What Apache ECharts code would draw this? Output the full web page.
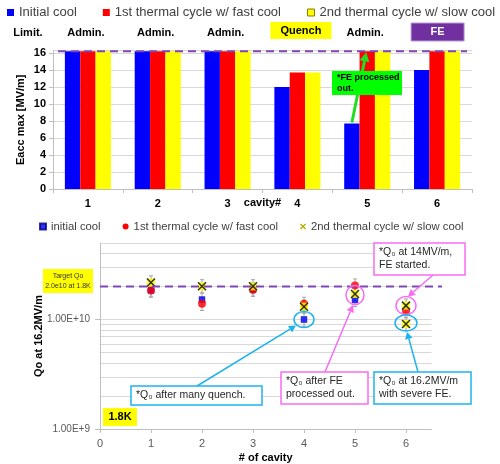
<!DOCTYPE html>
<html>
<head>
<meta charset="utf-8">
<script src="https://cdn.jsdelivr.net/npm/echarts@6/dist/echarts.min.js"></script>
<style>
  html, body { margin: 0; padding: 0; background: #fff; }
  #chart { width: 500px; height: 464px; }
</style>
</head>
<body>
<div id="chart"></div>
<script>
// ---- Maximum accelerating gradient per cavity (MV/m) ----
const cavities = ['1', '2', '3', '4', '5', '6'];
const eaccInitial = [16.2, 16.2, 16.2, 12.0, 7.7, 14.0];
const eaccFast = [16.2, 16.2, 16.2, 13.7, 16.2, 16.2];
const eaccSlow = [16.2, 16.2, 16.2, 13.7, 16.2, 16.2];
const eaccTarget = 16.2;
const limitLabels = ['Admin.', 'Admin.', 'Admin.', 'Quench', 'Admin.', 'FE'];

// ---- Quality factor Q0 at 16.2 MV/m ----
const cavityNo = [1, 2, 3, 4, 5, 6];
const q0Initial = [1.85e10, 1.52e10, 1.88e10, 1.00e10, 1.51e10, null];
const q0Fast = [1.84e10, 1.39e10, 1.87e10, 1.39e10, 2.04e10, 1.19e10];
const q0SlowCavity = [1, 2, 3, 4, 5, 6, 6];
const q0Slow = [2.18e10, 2.01e10, 2.01e10, 1.31e10, 1.71e10, 1.34e10, 0.91e10];
const q0Target = 2.0e10;
const q0RelErr = 0.15;
const q0AxisMin = 1e9, q0AxisMax = 5e10;

const FONT = 'Liberation Sans';
const GRID = '#d9d9d9';
const AXIS = '#bfbfbf';
const PURPLE = '#7f46b8';
const CYAN = '#1db4ec';
const PINK = '#f86cf4';

const nameInitial = 'Initial cool';
const nameInitial2 = 'initial cool';
const nameFast = '1st thermal cycle w/ fast cool';
const nameSlow = '2nd thermal cycle w/ slow cool';

// minor gridlines of the log axis (2..9 of each decade)
const minorLines = [];
for (let d = q0AxisMin; d < q0AxisMax; d *= 10) {
  for (let k = 2; k <= 9; k++) {
    const v = d * k;
    if (v < q0AxisMax) minorLines.push({ yAxis: v });
  }
}

const pairs = (xs, ys) => xs.map((x, i) => [x, ys[i]]).filter(p => p[1] != null);
const errRows = [];
[[cavityNo, q0Initial], [cavityNo, q0Fast], [q0SlowCavity, q0Slow]].forEach(([xs, ys]) => {
  xs.forEach((x, i) => { if (ys[i] != null) errRows.push([x, ys[i] / (1 + q0RelErr), ys[i] * (1 + q0RelErr)]); });
});

const chart = echarts.init(document.getElementById('chart'), null, { renderer: 'canvas' });

const xIcon = 'path://M0,1.5 L1.5,0 L5,3.5 L8.5,0 L10,1.5 L6.5,5 L10,8.5 L8.5,10 L5,6.5 L1.5,10 L0,8.5 L3.5,5 Z';
const axisName = { fontWeight: 'bold', fontSize: 11, color: '#000' };

chart.setOption({
  animation: false,
  textStyle: { fontFamily: FONT },
  legend: [
    {
      left: 7, top: 6, padding: 0, itemGap: 26, itemWidth: 7, itemHeight: 7,
      textStyle: { fontSize: 13, color: '#404040', fontFamily: FONT },
      data: [
        { name: nameInitial, icon: 'rect' },
        { name: nameFast, icon: 'rect' },
        { name: nameSlow, icon: 'rect', itemStyle: { color: '#ffff00', borderColor: '#7f7f00', borderWidth: 1 } }
      ]
    },
    {
      left: 39, top: 221, padding: 0, itemGap: 22, itemWidth: 6, itemHeight: 6,
      textStyle: { fontSize: 11.3, color: '#404040', fontFamily: FONT },
      data: [
        { name: nameInitial2, icon: 'rect' },
        { name: nameFast, icon: 'circle' },
        { name: nameSlow, icon: xIcon, itemStyle: { color: '#b0b000', borderWidth: 0 } }
      ]
    }
  ],
  grid: [
    { left: 53, top: 50.5, width: 419, height: 138.5, outerBoundsMode: 'none', containLabel: false },
    { left: 100, top: 243, width: 331.5, height: 186, outerBoundsMode: 'none', containLabel: false }
  ],
  xAxis: [
    {
      type: 'category', gridIndex: 0, data: cavities,
      name: 'cavity#', nameLocation: 'middle', nameGap: 8.5, nameMoveOverlap: false,
      nameTextStyle: axisName,
      axisLine: { lineStyle: { color: AXIS } },
      axisTick: { show: true, length: 4, lineStyle: { color: AXIS } },
      axisLabel: { fontWeight: 'bold', fontSize: 11, color: '#000', margin: 9 }
    },
    {
      type: 'value', gridIndex: 1, min: 0, max: 6.5, interval: 1,
      name: '# of cavity', nameLocation: 'middle', nameGap: 23.5, nameMoveOverlap: false,
      nameTextStyle: axisName,
      splitLine: { show: false },
      axisLine: { show: true, lineStyle: { color: AXIS } },
      axisTick: { show: true, length: 4, lineStyle: { color: AXIS } },
      axisLabel: { fontSize: 11, color: '#595959', margin: 9, showMaxLabel: false }
    }
  ],
  yAxis: [
    {
      type: 'value', gridIndex: 0, min: 0, max: 16.3, interval: 2,
      name: 'Eacc max [MV/m]', nameLocation: 'middle', nameGap: 27, nameMoveOverlap: false,
      nameTextStyle: axisName,
      splitLine: { lineStyle: { color: GRID } },
      axisLine: { show: true, lineStyle: { color: AXIS } },
      axisTick: { show: true, length: 4, lineStyle: { color: AXIS } },
      axisLabel: { fontWeight: 'bold', fontSize: 11, color: '#000', margin: 7, showMaxLabel: false }
    },
    {
      type: 'log', gridIndex: 1, min: q0AxisMin, max: q0AxisMax, logBase: 10,
      name: 'Qo at 16.2MV/m', nameLocation: 'middle', nameGap: 56, nameMoveOverlap: false,
      nameTextStyle: axisName,
      splitLine: { lineStyle: { color: GRID } },
      axisLine: { show: true, lineStyle: { color: AXIS } },
      axisTick: { show: true, length: 5, lineStyle: { color: AXIS } },
      axisLabel: {
        fontSize: 10, color: '#595959', margin: 10, showMaxLabel: false,
        formatter: v => Number(v).toExponential(2).toUpperCase()
      }
    }
  ],
  series: [
    { name: nameInitial, type: 'bar', xAxisIndex: 0, yAxisIndex: 0, data: eaccInitial,
      itemStyle: { color: '#0000ff' }, barGap: '0%', barCategoryGap: '34%' },
    { name: nameFast, type: 'bar', xAxisIndex: 0, yAxisIndex: 0, data: eaccFast,
      itemStyle: { color: '#ff0000' }, barGap: '0%', barCategoryGap: '34%' },
    { name: nameSlow, type: 'bar', xAxisIndex: 0, yAxisIndex: 0, data: eaccSlow,
      itemStyle: { color: '#ffff00' }, barGap: '0%', barCategoryGap: '34%' },
    {
      type: 'custom', name: 'errors', xAxisIndex: 1, yAxisIndex: 1, z: 1, silent: true,
      data: errRows,
      encode: { x: 0, y: [1, 2] },
      renderItem: (params, api) => {
        const top = api.coord([api.value(0), api.value(2)]);
        const bot = api.coord([api.value(0), api.value(1)]);
        const st = { stroke: '#a6a6a6', lineWidth: 1 };
        return {
          type: 'group', children: [
            { type: 'line', shape: { x1: top[0], y1: top[1], x2: bot[0], y2: bot[1] }, style: st },
            { type: 'line', shape: { x1: top[0] - 2, y1: top[1], x2: top[0] + 2, y2: top[1] }, style: st },
            { type: 'line', shape: { x1: bot[0] - 2, y1: bot[1], x2: bot[0] + 2, y2: bot[1] }, style: st }
          ]
        };
      }
    },
    {
      name: nameInitial2, type: 'scatter', xAxisIndex: 1, yAxisIndex: 1,
      data: pairs(cavityNo, q0Initial), symbol: 'rect', symbolSize: 6,
      itemStyle: { color: '#0000ff', borderColor: '#000080', borderWidth: 0.5 },
      markLine: {
        silent: true, symbol: 'none', label: { show: false },
        lineStyle: { color: GRID, type: 'solid', width: 1 },
        emphasis: { disabled: true },
        data: minorLines, z: 0
      }
    },
    {
      name: nameFast, type: 'scatter', xAxisIndex: 1, yAxisIndex: 1,
      data: pairs(cavityNo, q0Fast), symbol: 'circle', symbolSize: 8,
      itemStyle: { color: '#ff0000' }
    },
    {
      name: nameSlow, type: 'scatter', xAxisIndex: 1, yAxisIndex: 1,
      data: pairs(q0SlowCavity, q0Slow), symbol: 'rect', symbolSize: 8,
      itemStyle: { color: '#ffff00' }
    },
    {
      name: nameSlow, type: 'scatter', xAxisIndex: 1, yAxisIndex: 1,
      data: pairs(q0SlowCavity, q0Slow), symbol: 'path://M0,0 L10,10 M10,0 L0,10', symbolSize: 8,
      itemStyle: { color: 'none', borderColor: '#000', borderWidth: 1.5 }
    }
  ]
});

// ---- annotations ----
const topPx = (i, v) => chart.convertToPixel({ xAxisIndex: 0, yAxisIndex: 0 }, [i, v]);
const botPx = (x, v) => chart.convertToPixel({ xAxisIndex: 1, yAxisIndex: 1 }, [x, v]);

function arrow(x1, y1, x2, y2, color, w, head) {
  const a = Math.atan2(y2 - y1, x2 - x1);
  const hw = head * 0.55;
  const bx = x2 - head * Math.cos(a), by = y2 - head * Math.sin(a);
  return [
    { type: 'line', z: 100, shape: { x1, y1, x2: bx, y2: by }, style: { stroke: color, lineWidth: w } },
    { type: 'polygon', z: 100, shape: { points: [[x2, y2], [bx + hw * Math.sin(a), by - hw * Math.cos(a)], [bx - hw * Math.sin(a), by + hw * Math.cos(a)]] }, style: { fill: color } }
  ];
}
function box(x, y, w, h, stroke, lines, opts) {
  opts = opts || {};
  const els = [{ type: 'rect', z: 100, shape: { x, y, width: w, height: h },
    style: { fill: opts.fill || '#fff', stroke: stroke, lineWidth: opts.lw == null ? 1.5 : opts.lw } }];
  const lh = opts.lh || 13;
  const y0 = y + h / 2 - (lines.length - 1) * lh / 2;
  lines.forEach((t, i) => {
    els.push({ type: 'text', z: 101,
      style: { x: opts.center ? x + w / 2 : x + (opts.pad || 5), y: y0 + i * lh, text: t,
        fill: opts.color || '#262626', font: (opts.weight || 'normal') + ' ' + (opts.size || 10.5) + 'px "' + FONT + '"',
        align: opts.center ? 'center' : 'left', verticalAlign: 'middle' } });
  });
  return els;
}
function label(x, y, t, size, color, weight) {
  return { type: 'text', z: 101, style: { x, y, text: t, fill: color || '#000',
    font: (weight || 'bold') + ' ' + size + 'px "' + FONT + '"', align: 'center', verticalAlign: 'middle' } };
}

const g = [];
// limitation row above the bar chart
g.push(label(28, 33, 'Limit.', 11));
limitLabels.forEach((t, i) => {
  const cx = topPx(i, 0)[0];
  if (t === 'Quench') g.push(...box(cx - 27, 22, 61, 17, 'none', [t], { fill: '#ffff00', center: true, weight: 'bold', size: 11, color: '#000', lw: 0 }));
  else if (t === 'FE') g.push(...box(cx - 26, 23, 53, 18, '#b99ad6', [t], { fill: '#7030a0', center: true, weight: 'bold', size: 11, color: '#fff', lw: 1 }));
  else g.push(label(cx - 2, 33, t, 11));
});
// target gradient line
const yT = topPx(0, eaccTarget)[1];
g.push({ type: 'line', z: 100, shape: { x1: 58, y1: yT, x2: 467, y2: yT }, style: { stroke: PURPLE, lineWidth: 2, lineDash: [8, 5] } });
// FE processing arrow: initial-cool bar of cavity 5 to its cycled value
const c5 = topPx(4, 0)[0];
const barW = 419 / 6 * 0.66 / 3;
const a0 = topPx(4, eaccInitial[4]);
const a1 = topPx(4, eaccFast[4]);
g.push(...arrow(c5 - barW, a0[1] - 1, a1[0] - 1, a1[1] + 1, '#22dd22', 3, 9));
g.push(...box(332, 71, 70, 24, 'none', ['*FE processed', 'out.'], { fill: '#00ff00', weight: 'bold', size: 9, color: '#000', lw: 0, lh: 11, pad: 5 }));

// target Q0 line + its tag
const yQ = botPx(0, q0Target)[1];
g.push({ type: 'line', z: 100, shape: { x1: 100, y1: yQ, x2: 442, y2: yQ }, style: { stroke: PURPLE, lineWidth: 2, lineDash: [8, 5] } });
g.push(...box(43, 269, 50, 24, 'none', ['Target Qo', '2.0e10 at 1.8K'], { fill: '#ffff00', center: true, size: 7, color: '#333', lw: 0, lh: 10 }));
g.push(...box(103, 408, 34, 18, 'none', ['1.8K'], { fill: '#ffff00', center: true, weight: 'bold', size: 11, color: '#000', lw: 0 }));

// circled points
const e4 = botPx(4, q0Initial[3]);
const e5 = botPx(5, q0Slow[4]);
const e6a = botPx(6, q0Slow[5]);
const e6b = botPx(6, q0Slow[6]);
const ell = (p, rx, ry, c, dy) => ({ type: 'ellipse', z: 100, shape: { cx: p[0], cy: p[1] + (dy || 0), rx, ry }, style: { fill: 'none', stroke: c, lineWidth: 1.5 } });
g.push(ell(e4, 10, 8, CYAN));
g.push(ell(e5, 9, 9.5, PINK, 1));
g.push(ell(e6a, 10, 9, PINK, 0));
g.push(ell(e6b, 11, 8, CYAN, -1));

// callout arrows and boxes
g.push(...arrow(197, 386, e4[0] - 8, e4[1] + 6, CYAN, 1.5, 7));
g.push(...box(131, 386, 131, 19, CYAN, ['*Q\u2080 after many quench.']));
g.push(...arrow(325, 372, e5[0] - 2, e5[1] + 11, PINK, 1.5, 7));
g.push(...box(281, 372, 87, 32, PINK, ['*Q\u2080 after FE', 'processed out.']));
g.push(...arrow(418, 372, e6b[0] + 1, e6b[1] + 8, CYAN, 1.5, 7));
g.push(...box(374, 372, 97, 32, CYAN, ['*Q\u2080 at 16.2MV/m', 'with severe FE.']));
g.push(...arrow(433, 275, e6a[0] + 2, e6a[1] - 9, PINK, 1.5, 7));
g.push(...box(374, 243, 91, 32, PINK, ['*Q\u2080 at 14MV/m,', 'FE started.']));

chart.setOption({ graphic: { elements: g } });
</script>
</body>
</html>
